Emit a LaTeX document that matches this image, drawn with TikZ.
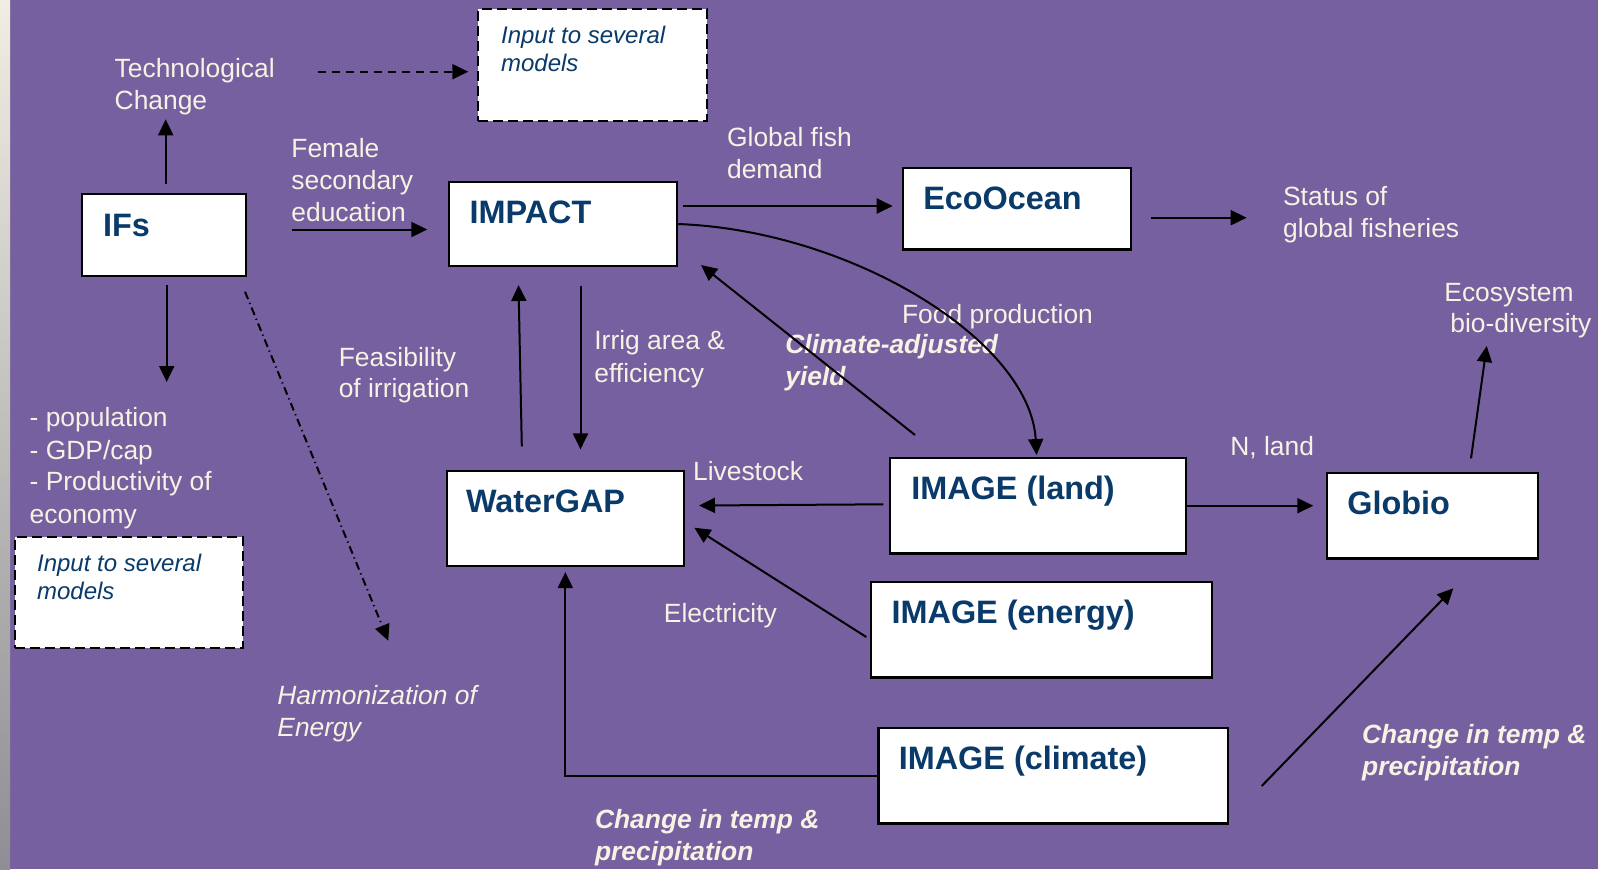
\documentclass[tikz,border=0pt]{standalone}
\usepackage{fontspec}
\setmainfont{Liberation Sans}
\usetikzlibrary{arrows.meta,fit}
\definecolor{bgpurple}{HTML}{7760A0}
\definecolor{cream}{HTML}{F6F2E4}
\definecolor{navy}{HTML}{0A3A6A}
\definecolor{stripA}{HTML}{F0EEE2}
\definecolor{stripB}{HTML}{B4B4AC}
\definecolor{stripC}{HTML}{8E8E94}
\tikzset{
 box/.style={draw=black, fill=white, line width=1.1pt, inner sep=0pt},
 dbox/.style={box, dash pattern=on 5pt off 2.5pt},
 lbl/.style={anchor=base west, inner sep=0pt, text=navy, font=\fontsize{16.2}{19}\selectfont\bfseries},
 txt/.style={anchor=base west, inner sep=0pt, text=cream, font=\fontsize{13.2}{16}\selectfont},
 itxt/.style={txt, font=\fontsize{13.2}{16}\selectfont\itshape},
 bitxt/.style={txt, font=\fontsize{13.2}{16}\selectfont\bfseries\itshape},
 ntxt/.style={anchor=base west, inner sep=0pt, text=navy, font=\fontsize{12}{14}\selectfont\itshape},
 arr/.style={draw=black, line width=1pt, -{Triangle[length=8pt,width=7.5pt]}},
}
\begin{document}
\begin{tikzpicture}[x=0.5pt,y=-0.5pt]
\useasboundingbox (0,0) rectangle (1598,869);
\fill[bgpurple] (0,0) rectangle (1598,869);
\shade[top color=stripA, middle color=stripB, bottom color=stripC] (0,0) rectangle (10,869);

% boxes
\node[box, fit={(81.7,194.3) (245.7,276.3)}] (ifs) {};
\node[box, fit={(449.3,181.7) (677.3,265.7)}] (impact) {};
\node[dbox, fit={(478.3,9.3) (706.7,120.7)}] (inpA) {};
\node[box, fit={(903,168) (1131,249.5)}] (eco) {};
\node[box, fit={(890,457.7) (1186,553.4)}] (land) {};
\node[box, fit={(1327,473.3) (1538,558.5)}] (globio) {};
\node[box, fit={(446.7,471) (684,566)}] (water) {};
\node[box, fit={(871.3,581.9) (1212.3,677.5)}] (energy) {};
\node[box, fit={(878.5,727.6) (1228,823.4)}] (climate) {};
\node[dbox, fit={(14.7,537.3) (243.3,647.7)}] (inpB) {};

% box labels
\node[lbl] (ifsL) at ([shift={(22,43)}]ifs.north west) {IFs};
\node[lbl] (impactL) at ([shift={(21,42.5)}]impact.north west) {IMPACT};
\node[lbl] (ecoL) at ([shift={(21,42.5)}]eco.north west) {EcoOcean};
\node[lbl] (landL) at ([shift={(22,42.5)}]land.north west) {IMAGE (land)};
\node[lbl] (globioL) at ([shift={(21,42.5)}]globio.north west) {Globio};
\node[lbl] (waterL) at ([shift={(20,42.5)}]water.north west) {WaterGAP};
\node[lbl] (energyL) at ([shift={(21,42.5)}]energy.north west) {IMAGE (energy)};
\node[lbl] (climateL) at ([shift={(21,42.5)}]climate.north west) {IMAGE (climate)};
\node[ntxt] (inpA1) at (500.7,43.3) {Input to several};
\node[ntxt] (inpA2) at (500.7,71.5) {models};
\node[ntxt] (inpB1) at (36.7,571) {Input to several};
\node[ntxt] (inpB2) at (36.7,599.3) {models};

% texts
\node[txt] (tc1) at (114.3,77.3) {Technological};
\node[txt] (tc2) at (114.3,109) {Change};
\node[txt] (fe1) at (291,157) {Female};
\node[txt] (fe2) at (291,189) {secondary};
\node[txt] (fe3) at (291,221) {education};
\node[txt] (gf1) at (726.7,146.5) {Global fish};
\node[txt] (gf2) at (726.7,178.5) {demand};
\node[txt] (st1) at (1282.7,205) {Status of};
\node[txt] (st2) at (1282.7,237) {global fisheries};
\node[txt] (food) at (901.7,323.5) {Food production};
\node[txt] (ir1) at (594,349.5) {Irrig area \&};
\node[txt] (ir2) at (594,382) {efficiency};
\node[txt] (fs1) at (338.4,366) {Feasibility};
\node[txt] (fs2) at (338.4,397.5) {of irrigation};
\node[txt] (po1) at (29.3,426.7) {- population};
\node[txt] (po2) at (29.3,459) {- GDP/cap};
\node[txt] (po3) at (29.3,490.5) {- Productivity of};
\node[txt] (po4) at (29.3,523) {economy};
\node[txt] (live) at (692.7,480.5) {Livestock};
\node[txt] (nland) at (1230,455) {N, land};
\node[txt] (es1) at (1444,301.7) {Ecosystem};
\node[txt] (es2) at (1450,332.7) {bio-diversity};
\node[txt] (elec) at (663.5,622) {Electricity};
\node[itxt] (ha1) at (277,704) {Harmonization of};
\node[itxt] (ha2) at (277,736.5) {Energy};
\node[bitxt] (cy1) at (785,353.5) {Climate-adjusted};
\node[bitxt] (cy2) at (785,385) {yield};
\node[bitxt] (cr1) at (1361.7,743.3) {Change in temp \&};
\node[bitxt] (cr2) at (1361.7,775) {precipitation};
\node[bitxt] (cb1) at (594.6,828.5) {Change in temp \&};
\node[bitxt] (cb2) at (594.6,860.5) {precipitation};

% arrow end points
\coordinate (tcS) at (165.7,184);   \coordinate (tcE) at (165.7,119.3);
\coordinate (daS) at (318,71.7);    \coordinate (daE) at (468.3,71.7);
\coordinate (feS) at (292,229.5);   \coordinate (feE) at (427.3,229.5);
\coordinate (fiS) at (682.7,206);   \coordinate (fiE) at (892.7,206);
\coordinate (cuS) at (677.3,224);   \coordinate (cuE) at (1036.6,455);
\coordinate (stS) at (1150.7,217.7);\coordinate (stE) at (1246.7,217.7);
\coordinate (poS) at (166.7,285);   \coordinate (poE) at (166.7,382);
\coordinate (hmS) at (245,291.7);   \coordinate (hmE) at (388.3,640.7);
\coordinate (wiS) at (521.8,446.4); \coordinate (wiE) at (518.5,285);
\coordinate (iwS) at (580.5,286);   \coordinate (iwE) at (580.5,449.4);
\coordinate (yiS) at (915,435);     \coordinate (yiE) at (701,265);
\coordinate (lvS) at (883.3,504.3); \coordinate (lvE) at (699,505.5);
\coordinate (elS) at (866.3,637);   \coordinate (elE) at (694.3,527.7);
\coordinate (nlS) at (1186.7,505.7);\coordinate (nlE) at (1313.3,505.7);
\coordinate (gbS) at (1471,458.3);  \coordinate (gbE) at (1486.7,346);
\coordinate (cgS) at (1261.7,786);  \coordinate (cgE) at (1453.3,588.3);

% connectors
\draw[arr] (tcS) -- (tcE);
\draw[arr, dash pattern=on 4pt off 3pt] (daS) -- (daE);
\draw[arr] (feS) -- (feE);
\draw[arr] (fiS) -- (fiE);
\draw[arr] (cuS) .. controls (850,230) and (1030,340) .. (cuE);
\draw[arr] (stS) -- (stE);
\draw[arr] (poS) -- (poE);
\draw[arr, dash pattern=on 4pt off 2pt on 0.6pt off 2pt] (hmS) -- (hmE);
\draw[arr] (wiS) -- (wiE);
\draw[arr] (iwS) -- (iwE);
\draw[arr] (yiS) -- (yiE);
\draw[arr] (lvS) -- (lvE);
\draw[arr] (elS) -- (elE);
\draw[arr] (nlS) -- (nlE);
\draw[arr] (gbS) -- (gbE);
\draw[arr] (climate.west) -| ([yshift=-2.5]water.south);
\draw[arr] (cgS) -- (cgE);
\end{tikzpicture}
\end{document}
